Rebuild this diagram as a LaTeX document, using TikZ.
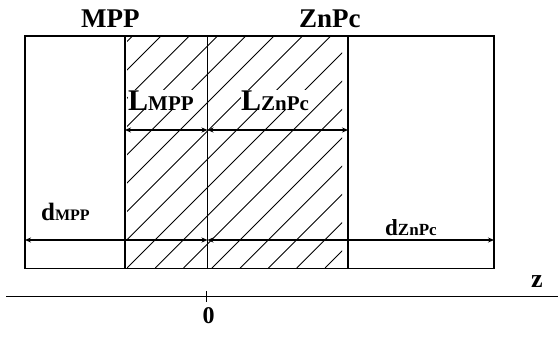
\documentclass[tikz,border=0pt]{standalone}
\usepackage{fontspec}
\setmainfont{Liberation Serif}
\usetikzlibrary{arrows.meta}
\newcommand{\fs}[1]{\fontsize{#1}{#1}\selectfont}
\tikzset{
  frame/.style={line width=1.4pt},
  hatch/.style={line width=0.9pt},
  dim/.style={line width=1.1pt,{Stealth[length=6pt,width=5pt]}-{Stealth[length=6pt,width=5pt]}},
  lbl/.style={inner sep=0pt,anchor=base west,font=\bfseries},
}
\begin{document}
\begin{tikzpicture}[x=1pt,y=-1pt]
\path[use as bounding box] (0,0) rectangle (558,338);
% hatching
\begin{scope}
\clip (127,37.5) rectangle (342,267);
\foreach \k in {-10,...,12}{
  \draw[hatch] ({127+28.3*\k},268) -- ({127+28.3*\k+250},18);
}
\end{scope}
% frame
\draw[frame] (25,36) rectangle (494,268.5);
\draw[frame] (125,36) -- (125,268.5);
\draw[frame] (207.5,36) -- (207.5,268.5);
\draw[frame] (348,36) -- (348,268.5);
% coordinates
\coordinate (l0) at (125,130);
\coordinate (l1) at (207.5,130);
\coordinate (l2) at (348,130);
\coordinate (d0) at (25,240);
\coordinate (d1) at (207.5,240);
\coordinate (d2) at (494,240);
\coordinate (ax0) at (6,296);
\coordinate (ax1) at (558,296);
\coordinate (t0) at (206,291);
\coordinate (t1) at (206,302);
% labels
\node[lbl,fill=white] (lmpp) at (128,110) {{\fs{30}L}{\fs{21}MPP}};
\node[lbl,fill=white] (lznpc) at (241,110) {{\fs{30}L}{\fs{21}ZnPc}};
\node[lbl] (dmpp) at (41,220) {{\fs{25}d}{\fs{16}MPP}};
\node[lbl] (dznpc) at (385,235) {{\fs{23}d}{\fs{17}ZnPc}};
\node[lbl] (mpp) at (81,27) {\fs{27}MPP};
\node[lbl] (znpc) at (299,27) {\fs{27}ZnPc};
\node[lbl] (zero) at (202.5,323) {\fs{24}0};
\node[lbl] (zz) at (531,287) {\fs{26}z};
% dimension arrows
\draw[dim] (l0) -- (l1);
\draw[dim] (l1) -- (l2);
\draw[dim] (d0) -- (d1);
\draw[dim] (d1) -- (d2);
% axis
\draw[line width=1pt] (ax0) -- (ax1);
\draw[line width=1pt] (t0) -- (t1);
\end{tikzpicture}
\end{document}
